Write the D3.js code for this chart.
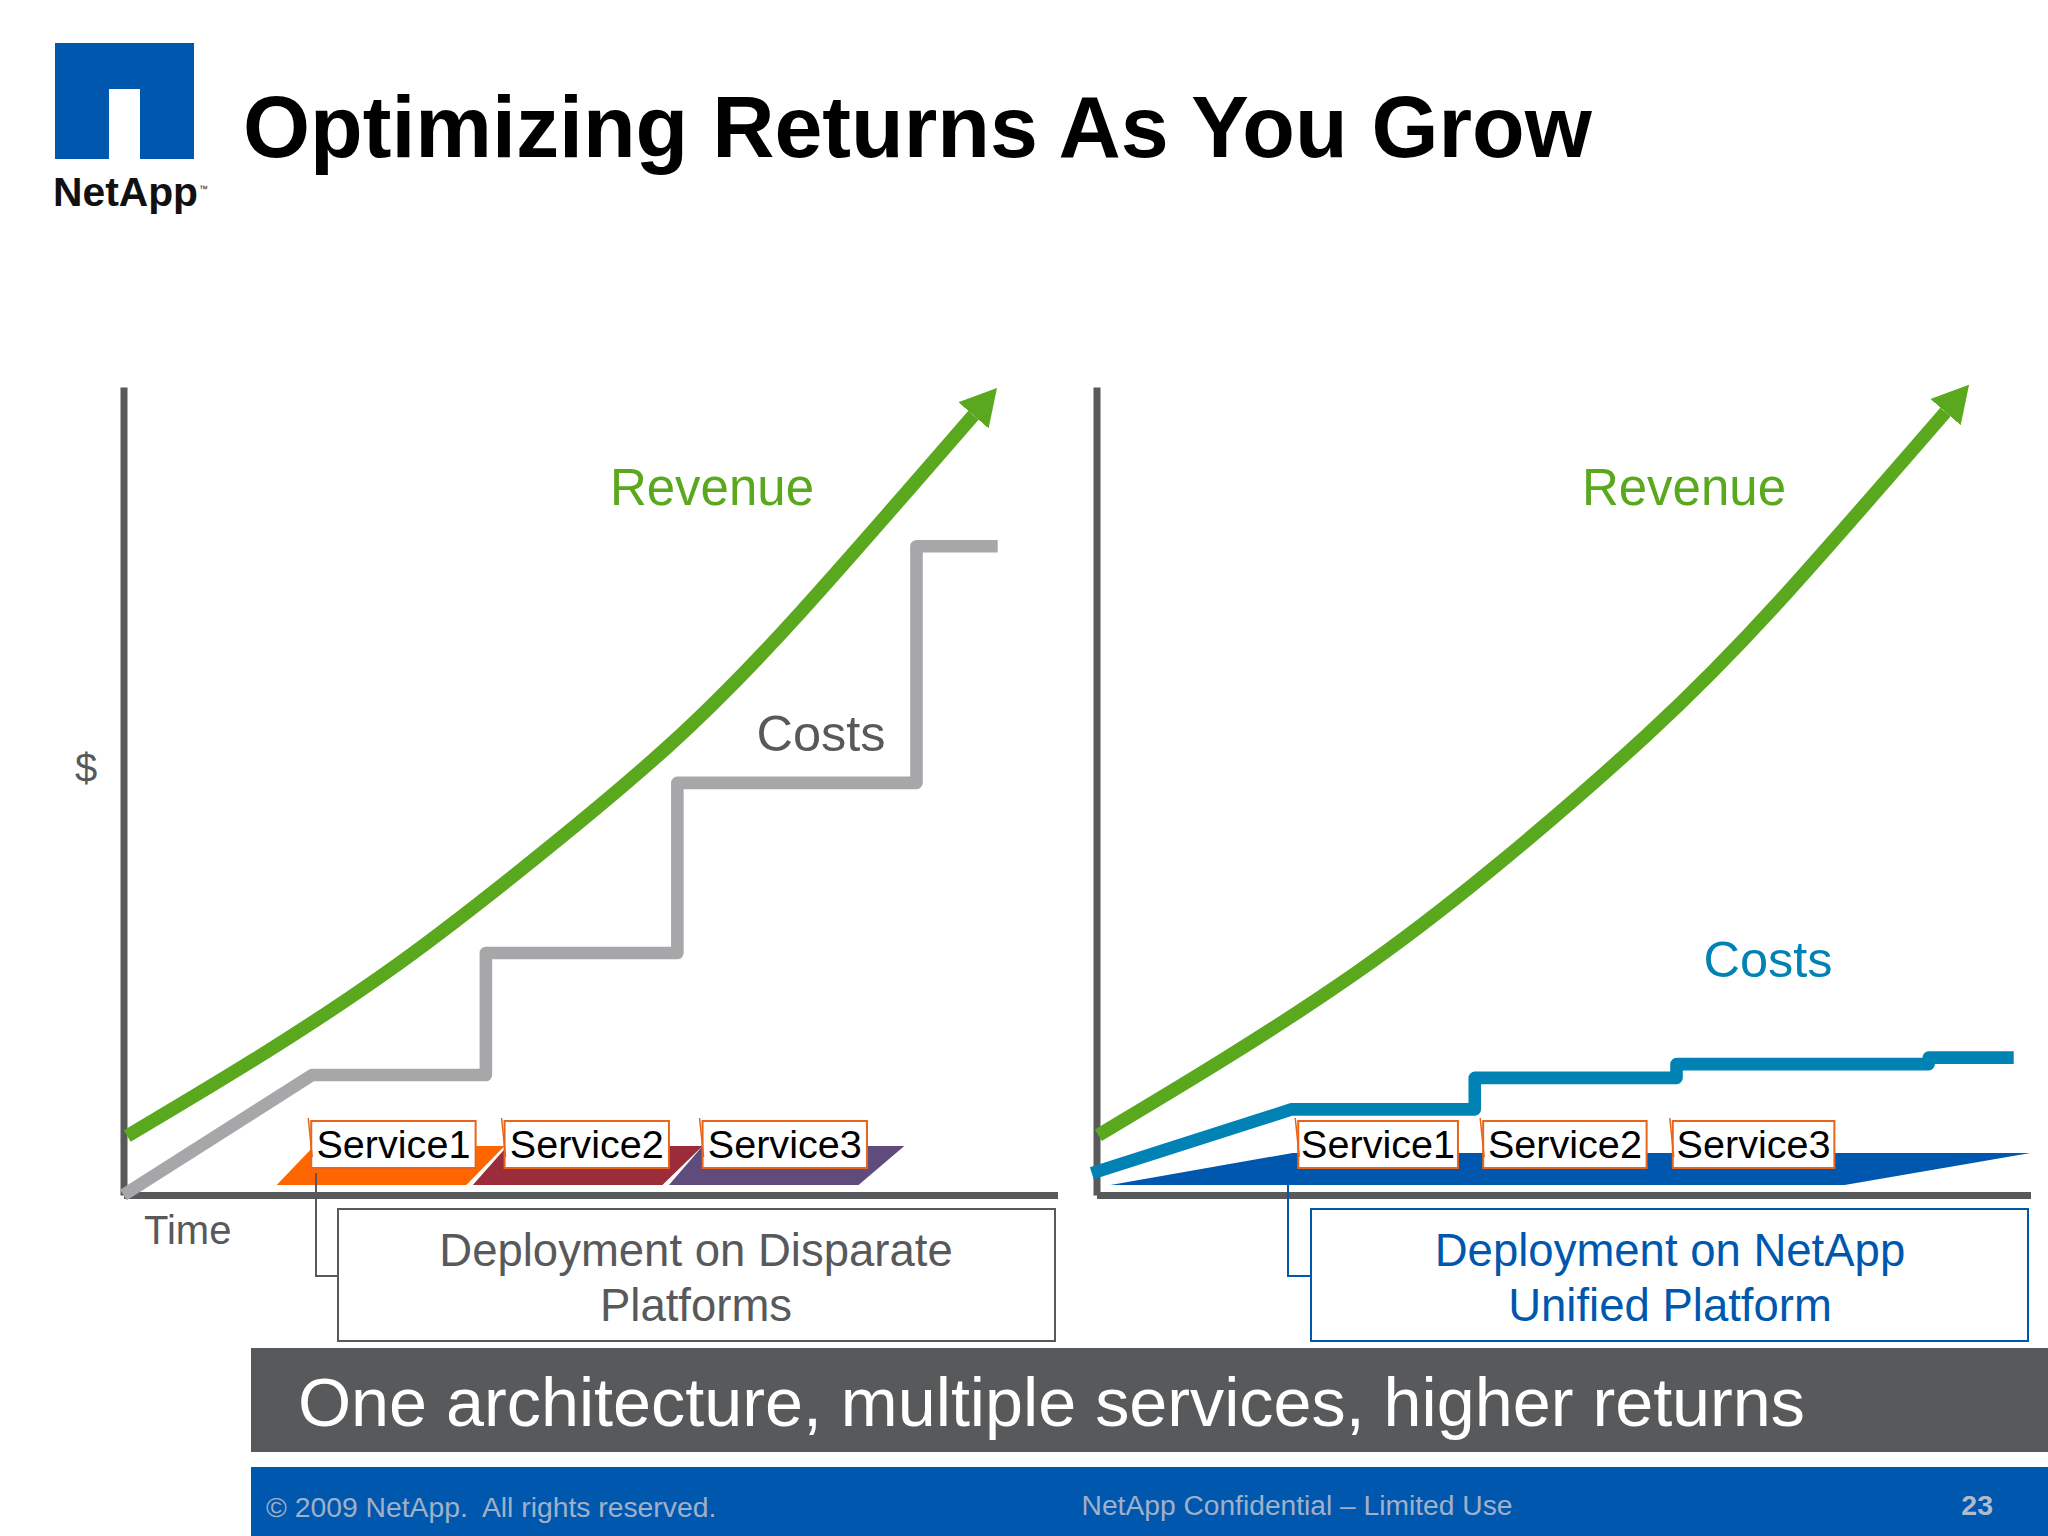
<!DOCTYPE html>
<html><head><meta charset="utf-8">
<script src="https://cdn.jsdelivr.net/npm/d3@7"></script>
<style>html,body{margin:0;padding:0;background:#fff}svg{display:block}text{font-family:"Liberation Sans",Arial,sans-serif}</style>
</head><body><script>
const title = "Optimizing Returns As You Grow";
const revenueLeftX  = [0.4,13.9,28.2,42.5,58.2,72.4,91.0];
const revenueLeftY  = [7.3,16.7,27.6,40.2,55.4,72.0,96.5];
const revenueRightX = [0.2,13.5,27.8,42.0,58.9,73.2,90.9];
const revenueRightY = [7.4,16.7,27.5,40.0,56.9,73.6,96.9];
const costLeftX  = [0,20.2,38.8,38.8,59.3,59.3,84.9,84.9,93.6];
const costLeftY  = [0,14.85,14.85,29.95,29.95,51.0,51.0,80.3,80.3];
const costRightX = [-0.5,20.9,40.5,40.5,62.1,62.1,89.1,89.1,98.2];
const costRightY = [2.7,10.6,10.6,14.5,14.5,16.2,16.2,17.0,17.0];
const services = ["Service1","Service2","Service3"];
const serviceLeftStart  = [20.1,40.8,62.0];
const serviceLeftEnd    = [37.7,58.4,79.6];
const serviceRightStart = [21.6,41.4,61.7];
const serviceRightEnd   = [38.7,58.9,79.0];
const serviceTop = 9.16, serviceBottom = 3.34;
const bandBottomStart = [16.4,37.4,58.4];
const bandBottomEnd   = [36.7,57.7,78.7];
const bandTopStart    = [20.4,41.1,62.0];
const bandTopEnd      = [40.8,62.0,83.6];
const bandColors = ["#ff6600","#9b2d3a","#5f4b7c"];
const bandLow = 1.24, bandHigh = 6.06;
const unifiedBottom = [1.5,80.1], unifiedTop = [21.0,100], unifiedHigh = 5.2;

const GREEN="#5aa81e", GRAY="#a7a6a8", TEAL="#0082b4", BLUE="#0058ae", DARK="#58595b", ORANGE="#e8641b";

const svg = d3.select("body").append("svg").attr("width",2048).attr("height",1536);
const y = d3.scaleLinear().domain([0,100]).range([1195,387]);
const xL = d3.scaleLinear().domain([0,100]).range([123.5,1057.5]);
const xR = d3.scaleLinear().domain([0,100]).range([1096.5,2030.5]);

svg.append("defs").append("marker").attr("id","head")
  .attr("markerUnits","userSpaceOnUse").attr("markerWidth",60).attr("markerHeight",60)
  .attr("refX",0).attr("refY",20).attr("orient","auto")
  .append("path").attr("d","M0,0 L36,20 L0,40 Z").attr("fill",GREEN);

function panel(x, revX, revY, costX, costY, costColor){
  const g = svg.append("g");
  g.append("g").attr("transform",`translate(0,${y(0)})`)
    .call(d3.axisBottom(x).tickValues([]).tickSizeOuter(0))
    .select(".domain").attr("stroke",DARK).attr("stroke-width",7);
  g.append("g").attr("transform",`translate(${x(0)},0)`)
    .call(d3.axisLeft(y).tickValues([]).tickSizeOuter(0))
    .select(".domain").attr("stroke",DARK).attr("stroke-width",7);
  const rev = d3.line().x(d=>x(d[0])).y(d=>y(d[1])).curve(d3.curveNatural);
  const lin = d3.line().x(d=>x(d[0])).y(d=>y(d[1]));
  g.append("path").attr("d",lin(d3.zip(costX,costY))).attr("fill","none")
    .attr("stroke",costColor).attr("stroke-width",12.6).attr("stroke-linejoin","round");
  g.append("path").attr("d",rev(d3.zip(revX,revY))).attr("fill","none")
    .attr("stroke",GREEN).attr("stroke-width",13.5).attr("marker-end","url(#head)");
  return g;
}
const left = panel(xL,revenueLeftX,revenueLeftY,costLeftX,costLeftY,GRAY);
const right = panel(xR,revenueRightX,revenueRightY,costRightX,costRightY,TEAL);

services.forEach((s,i)=>{
  left.append("polygon").attr("fill",bandColors[i]).attr("points",[
    [xL(bandBottomStart[i]),y(bandLow)],[xL(bandTopStart[i]),y(bandHigh)],
    [xL(bandTopEnd[i]),y(bandHigh)],[xL(bandBottomEnd[i]),y(bandLow)]].join(" "));
});
right.append("polygon").attr("fill",BLUE).attr("points",[
  [xR(unifiedBottom[0]),y(bandLow)],[xR(unifiedTop[0]),y(unifiedHigh)],
  [xR(unifiedTop[1]),y(unifiedHigh)],[xR(unifiedBottom[1]),y(bandLow)]].join(" "));

function serviceBoxes(g,x,starts,ends){
  services.forEach((s,i)=>{
    const x0=x(starts[i]),x1=x(ends[i]),t=y(serviceTop),b=y(serviceBottom);
    g.append("rect").attr("x",x0).attr("y",t).attr("width",x1-x0).attr("height",b-t)
      .attr("fill","#fff").attr("stroke",ORANGE).attr("stroke-width",2);
    g.append("path").attr("d",`M${x0-3},${t-3} L${x0+1},${t+36}`).attr("stroke",ORANGE).attr("stroke-width",1.5).attr("fill","none");
    g.append("text").attr("x",(x0+x1)/2).attr("y",1158).attr("text-anchor","middle")
      .attr("font-size",39.6).attr("fill","#000").text(s);
  });
}
serviceBoxes(left,xL,serviceLeftStart,serviceLeftEnd);
serviceBoxes(right,xR,serviceRightStart,serviceRightEnd);

function T(t,x,yy,size,fill,anchor="start",weight="normal"){
  return svg.append("text").attr("x",x).attr("y",yy).attr("font-size",size).attr("fill",fill)
    .attr("text-anchor",anchor).attr("font-weight",weight).attr("xml:space","preserve").style("white-space","pre").text(t);
}
T("Revenue",712,505,51,GREEN,"middle");
T("Revenue",1684,505,51,GREEN,"middle");
T("Costs",821,751,50.5,DARK,"middle");
T("Costs",1768,977,50.5,TEAL,"middle");
T("$",86,782,40,DARK,"middle");
T("Time",144,1244,40,DARK);

function callout(x0,x1,lx,ly0,color,lines,cx){
  svg.append("rect").attr("x",x0).attr("y",1209).attr("width",x1-x0).attr("height",132)
    .attr("fill","#fff").attr("stroke",color).attr("stroke-width",2);
  svg.append("path").attr("d",`M${lx},${ly0} V1276 H${x0}`).attr("fill","none").attr("stroke",color).attr("stroke-width",2);
  T(lines[0],cx,1266,45.5,color,"middle");
  T(lines[1],cx,1321,45.5,color,"middle");
}
callout(338,1055,316,1173,DARK,["Deployment on Disparate","Platforms"],696);
callout(1311,2028,1288,1185,BLUE,["Deployment on NetApp","Unified Platform"],1670);

svg.append("rect").attr("x",251).attr("y",1348).attr("width",1797).attr("height",104).attr("fill",DARK);
T("One architecture, multiple services, higher returns",298,1426,68.3,"#fff");
svg.append("rect").attr("x",251).attr("y",1467).attr("width",1797).attr("height",69).attr("fill",BLUE);
const FOOT="#a0b0c8";
T("© 2009 NetApp.  All rights reserved.",266,1517,28.3,FOOT);
T("NetApp Confidential – Limited Use",1297,1515,28.2,FOOT,"middle");
T("23",1993,1515,28.5,"#aebccf","end","bold");

svg.append("path").attr("fill",BLUE).attr("d","M55,43 H194 V159 H140 V89 H109 V159 H55 Z");
T("NetApp",53,206,40.8,"#111","start","bold");
T("™",199,192,9,"#111");
T(title,243,157,86.2,"#000","start","bold");
</script></body></html>
